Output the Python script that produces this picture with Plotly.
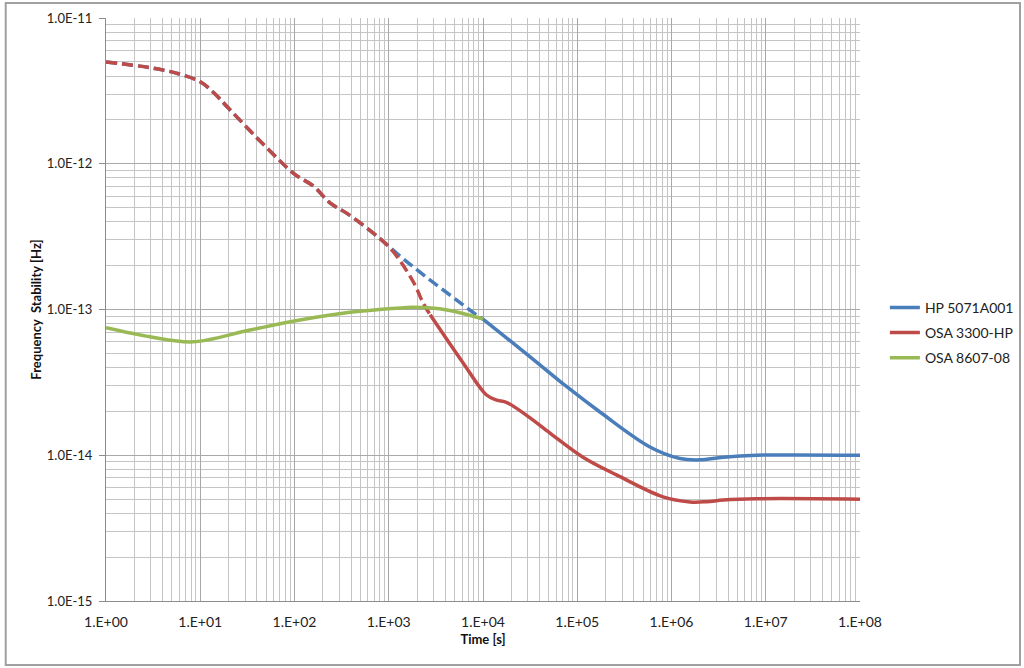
import plotly.graph_objects as go

# ---------------- data ----------------
hp_dash_x = [1, 3, 6, 10, 14, 20, 50, 100, 160, 240, 360, 800, 1300, 2330, 5260, 8570, 10000]
hp_dash_y = [5.0e-12, 4.55e-12, 4.13e-12, 3.65e-12, 3.06e-12, 2.4e-12, 1.3e-12, 8.5e-13, 7.0e-13,
             5.36e-13, 4.57e-13, 3.08e-13, 2.34e-13, 1.73e-13, 1.16e-13, 9.16e-14, 8.6e-14]
hp_x = [1e4, 3.16e4, 7.8e4, 1.74e5, 5.9e5, 1.23e6, 2.0e6, 3.55e6, 8.0e6, 1e8]
hp_y = [8.6e-14, 4.74e-14, 2.94e-14, 1.98e-14, 1.14e-14, 9.5e-15, 9.3e-15, 9.7e-15, 1.0e-14, 1.0e-14]

osa3300_dash_x = [1, 3, 6, 10, 14, 20, 50, 100, 160, 240, 360, 800, 1117, 1820, 2330, 2750]
osa3300_dash_y = [5.0e-12, 4.55e-12, 4.13e-12, 3.65e-12, 3.06e-12, 2.4e-12, 1.3e-12, 8.5e-13,
                  7.0e-13, 5.36e-13, 4.57e-13, 3.08e-13, 2.49e-13, 1.55e-13, 1.1e-13, 9.2e-14]
osa3300_x = [2750, 6180, 1.09e4, 1.4e4, 1.79e4, 3.0e4, 5.14e4, 1.15e5, 2.64e5, 8.13e5,
             1.57e6, 2.36e6, 3.55e6, 8.0e6, 1e8]
osa3300_y = [9.2e-14, 4.28e-14, 2.59e-14, 2.39e-14, 2.30e-14, 1.85e-14, 1.42e-14, 9.7e-15,
             7.3e-15, 5.18e-15, 4.78e-15, 4.8e-15, 4.93e-15, 5.03e-15, 5.0e-15]

osa8607_x = [1, 2.93, 8.4, 33.7, 114, 388, 1320, 1800, 4150, 1e4]
osa8607_y = [7.5e-14, 6.5e-14, 6.0e-14, 7.23e-14, 8.47e-14, 9.57e-14, 1.025e-13, 1.035e-13,
             9.93e-14, 8.6e-14]

names = ["HP 5071A001", "OSA 3300-HP", "OSA 8607-08"]
colors = ["#4A7EBB", "#BE4B48", "#98B954"]

x_tickvals = [10 ** k for k in range(0, 9)]
x_ticktext = ["1.E+%02d" % k for k in range(0, 9)]
y_tickvals = [10.0 ** (-k) for k in range(11, 16)]
y_ticktext = ["1.0E-%d" % k for k in range(11, 16)]
x_minor = [m * 10 ** k for k in range(0, 8) for m in range(2, 10)]
y_minor = [m * 10.0 ** (-k) for k in range(12, 16) for m in range(2, 10)]

FONT = "Lato"
LW = 3.5
DASH = "11px,5px"

fig = go.Figure()
fig.add_trace(go.Scatter(x=hp_dash_x, y=hp_dash_y, mode="lines", showlegend=False,
                         line=dict(color=colors[0], width=LW, dash=DASH, shape="spline")))
fig.add_trace(go.Scatter(x=hp_x, y=hp_y, mode="lines", name=names[0], legendgroup="a",
                         line=dict(color=colors[0], width=LW, shape="spline")))
fig.add_trace(go.Scatter(x=osa3300_dash_x, y=osa3300_dash_y, mode="lines", showlegend=False,
                         line=dict(color=colors[1], width=LW, dash=DASH, shape="spline")))
fig.add_trace(go.Scatter(x=osa3300_x, y=osa3300_y, mode="lines", name=names[1], legendgroup="b",
                         line=dict(color=colors[1], width=LW, shape="spline")))
fig.add_trace(go.Scatter(x=osa8607_x, y=osa8607_y, mode="lines", name=names[2], legendgroup="c",
                         line=dict(color=colors[2], width=LW, shape="spline")))

grid_minor = "#c4c4c4"
grid_major = "#a8a8a8"

fig.update_xaxes(type="log", range=[0, 8], tickmode="array", tickvals=x_tickvals,
                 ticktext=x_ticktext, showgrid=True, gridcolor=grid_major, gridwidth=1,
                 minor=dict(tickmode="array", tickvals=x_minor, showgrid=True,
                            gridcolor=grid_minor, gridwidth=1),
                 showline=True, linecolor="#8c8c8c", linewidth=1, ticks="",
                 ticklabelstandoff=8, zeroline=False,
                 tickfont=dict(family=FONT, size=14, color="#222"),
                 title=dict(text="<b>Time [s]</b>", font=dict(family=FONT, size=13, color="#111"),
                            standoff=6))
fig.update_yaxes(type="log", range=[-15, -11], tickmode="array", tickvals=y_tickvals,
                 ticktext=y_ticktext, showgrid=True, gridcolor=grid_major, gridwidth=1,
                 minor=dict(tickmode="array", tickvals=y_minor, showgrid=True,
                            gridcolor=grid_minor, gridwidth=1),
                 showline=True, linecolor="#8c8c8c", linewidth=1, ticks="outside",
                 ticklen=6, tickcolor="#8c8c8c", zeroline=False, ticklabelstandoff=4,
                 tickfont=dict(family=FONT, size=13, color="#222"),
                 title=dict(text="<b>Frequency  Stability [Hz]</b>",
                            font=dict(family=FONT, size=13, color="#111"), standoff=2))

fig.add_shape(type="rect", xref="paper", yref="paper", x0=-0.133, x1=1.2122,
              y0=-0.1098, y1=1.0257, line=dict(color="#a0a0a0", width=2), layer="below")

fig.update_layout(
    width=1024, height=668,
    margin=dict(l=106, r=164, t=18, b=67, autoexpand=False),
    plot_bgcolor="white", paper_bgcolor="white",
    font=dict(family=FONT, size=14, color="#222"),
    legend=dict(x=1.033, y=0.46, xanchor="left", yanchor="middle",
                font=dict(family=FONT, size=14, color="#222"),
                tracegroupgap=4, bgcolor="rgba(0,0,0,0)"),
)

fig.write_html("out.html", config={"displayModeBar": False},
               post_script="document.body.style.margin='0';document.body.style.overflow='hidden';")
